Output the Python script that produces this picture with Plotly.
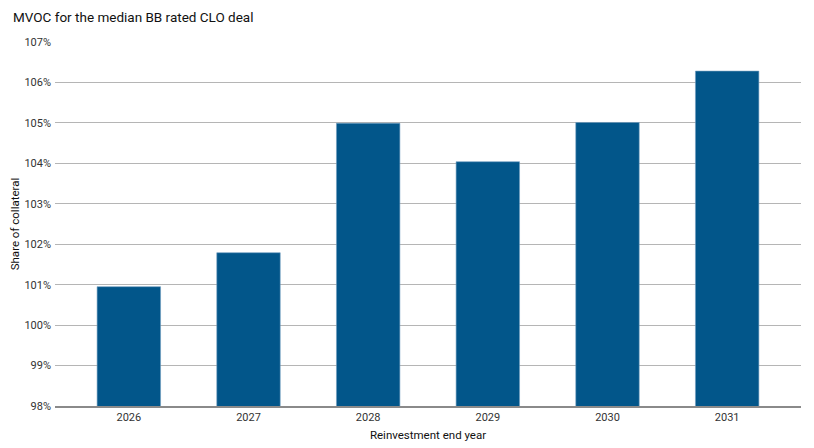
import plotly.graph_objects as go

# reinvestment end year vs median MVOC (%)
years = ["2026", "2027", "2028", "2029", "2030", "2031"]
mvoc = [100.95, 101.79, 104.99, 104.04, 105.01, 106.28]
y_ticks = [98, 99, 100, 101, 102, 103, 104, 105, 106, 107]
y_labels = [f"{t}%" for t in y_ticks]

FONT = "Roboto, sans-serif"

bar = go.Bar(
    x=years,
    y=mvoc,
    marker=dict(color="#02568A", line=dict(color="#6f9cc0", width=0.6)),
    hoverinfo="x+y",
)

# page body has an 8px margin, so the figure is sized to fit inside it
layout = go.Layout(
    width=806,
    height=440,
    paper_bgcolor="white",
    plot_bgcolor="white",
    margin=dict(l=47, r=13, t=34, b=42),
    font=dict(family=FONT, size=11, color="#333333"),
    title=dict(
        text="MVOC for the median BB rated CLO deal",
        x=5 / 806, xanchor="left",
        y=1 - 9 / 440, yanchor="middle",
        font=dict(family=FONT, size=13.5, color="#111111"),
    ),
    bargap=0.47,
    showlegend=False,
    xaxis=dict(
        range=[-0.617, 5.617],
        automargin=False,
        showgrid=False,
        showline=True,
        linecolor="#8a8a8a",
        linewidth=2,
        ticks="",
        tickfont=dict(size=11, color="#333333"),
        title=dict(text="Reinvestment end year", standoff=8,
                   font=dict(size=11.5, color="#111111")),
    ),
    yaxis=dict(
        range=[98, 107],
        automargin=False,
        tickvals=y_ticks,
        ticktext=y_labels,
        showgrid=True,
        gridcolor="#b5b5b5",
        gridwidth=1.3,
        zeroline=False,
        showline=False,
        ticks="",
        ticklabelstandoff=3,
        tickfont=dict(size=11, color="#333333"),
        title=dict(text="Share of collateral", standoff=6,
                   font=dict(size=11.5, color="#111111")),
    ),
)

fig = go.Figure(data=[bar], layout=layout)
fig.write_html("out.html")
